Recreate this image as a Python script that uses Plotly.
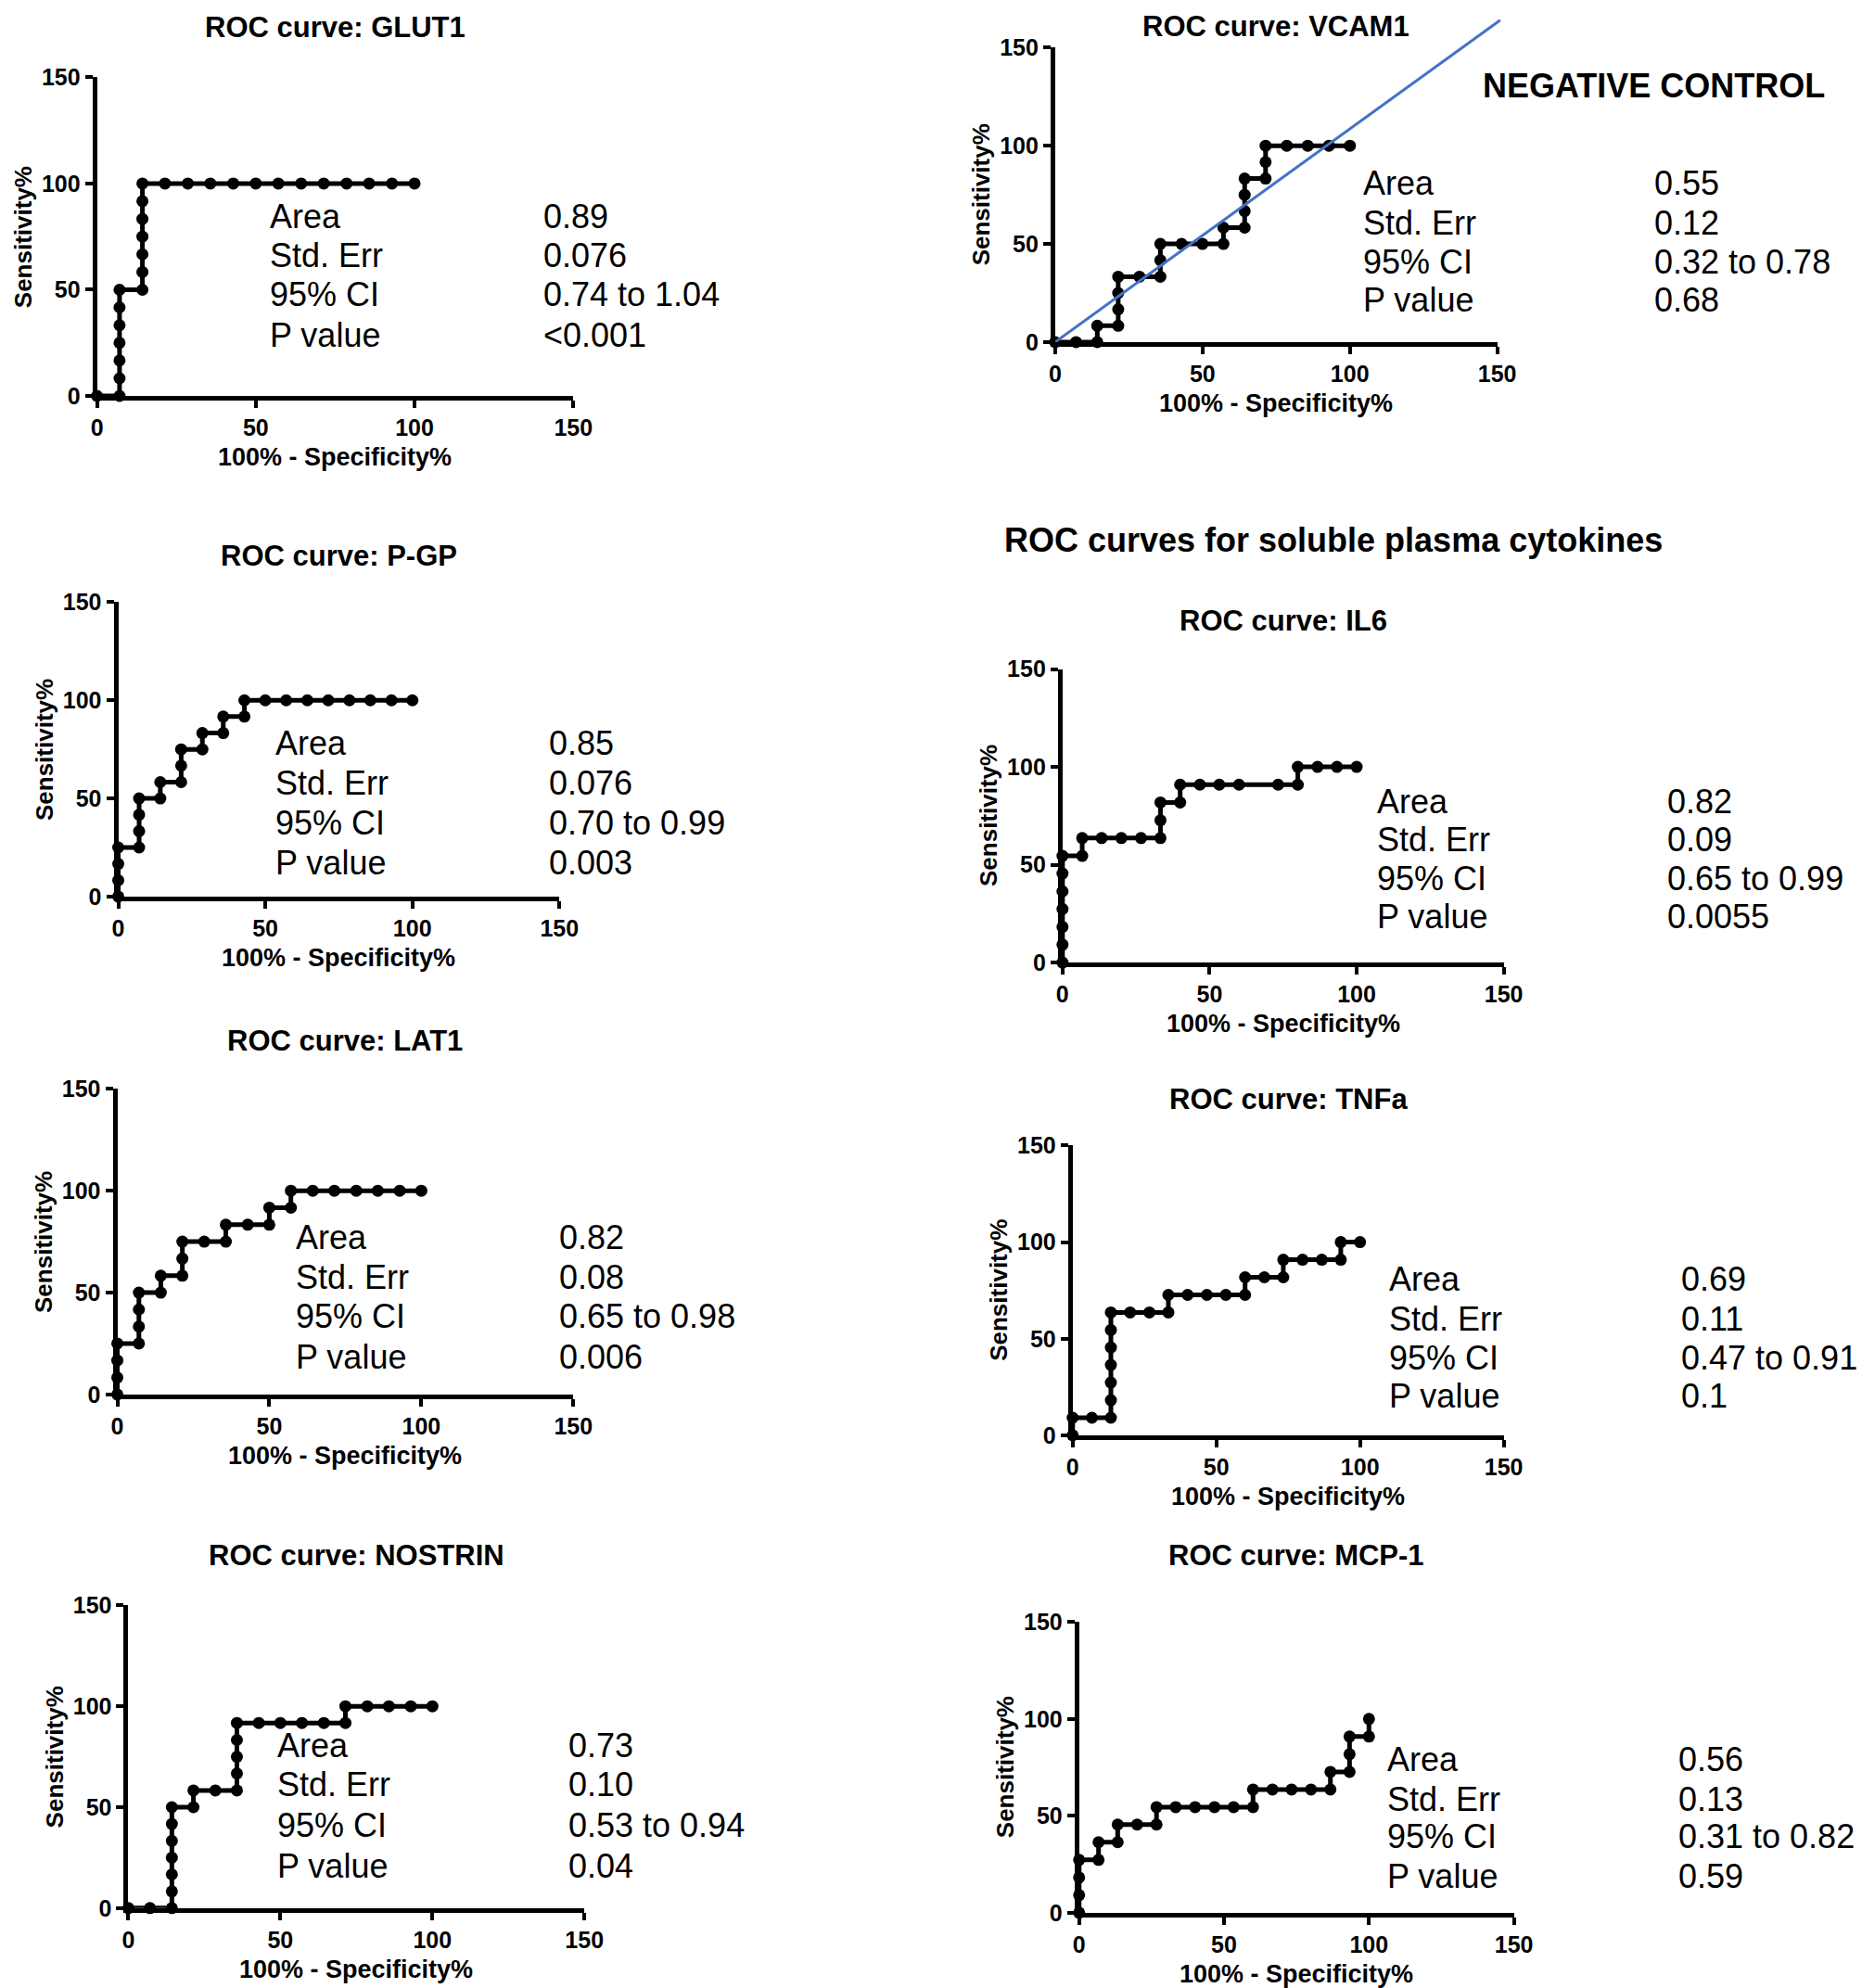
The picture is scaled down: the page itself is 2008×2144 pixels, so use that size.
import plotly.graph_objects as go

W, H = 2008, 2144
FONT = "Arial, 'Liberation Sans', Helvetica, sans-serif"

# ROC curve points: x = 100% - Specificity%, y = Sensitivity%
glut1_x = [0, 7.1, 7.1, 7.1, 7.1, 7.1, 7.1, 7.1, 14.3, 14.3, 14.3, 14.3, 14.3, 14.3, 14.3,
           21.4, 28.6, 35.7, 42.9, 50, 57.1, 64.3, 71.4, 78.6, 85.7, 92.9, 100]
glut1_y = [0, 0, 8.3, 16.7, 25, 33.3, 41.7, 50, 50, 58.3, 66.7, 75, 83.3, 91.7, 100,
           100, 100, 100, 100, 100, 100, 100, 100, 100, 100, 100, 100]

vcam1_x = [0, 7.1, 14.3, 14.3, 21.4, 21.4, 21.4, 21.4, 28.6, 35.7, 35.7, 35.7, 42.9, 50,
           57.1, 57.1, 64.3, 64.3, 64.3, 64.3, 71.4, 71.4, 71.4, 78.6, 85.7, 92.9, 100]
vcam1_y = [0, 0, 0, 8.3, 8.3, 16.7, 25, 33.3, 33.3, 33.3, 41.7, 50, 50, 50,
           50, 58.3, 58.3, 66.7, 75, 83.3, 83.3, 91.7, 100, 100, 100, 100, 100]
vcam1_ref_x = [0, 151]
vcam1_ref_y = [0, 164]

pgp_x = [0, 0, 0, 0, 7.1, 7.1, 7.1, 7.1, 14.3, 14.3, 21.4, 21.4, 21.4, 28.6, 28.6,
         35.7, 35.7, 42.9, 42.9, 50, 57.1, 64.3, 71.4, 78.6, 85.7, 92.9, 100]
pgp_y = [0, 8.3, 16.7, 25, 25, 33.3, 41.7, 50, 50, 58.3, 58.3, 66.7, 75, 75, 83.3,
         83.3, 91.7, 91.7, 100, 100, 100, 100, 100, 100, 100, 100, 100]

il6_x = [0, 0, 0, 0, 0, 0, 0, 6.7, 6.7, 13.3, 20, 26.7, 33.3, 33.3, 33.3, 40, 40,
         46.7, 53.3, 60, 73.3, 80, 80, 86.7, 93.3, 100]
il6_y = [0, 9.1, 18.2, 27.3, 36.4, 45.5, 54.5, 54.5, 63.6, 63.6, 63.6, 63.6, 63.6, 72.7, 81.8,
         81.8, 90.9, 90.9, 90.9, 90.9, 90.9, 90.9, 100, 100, 100, 100]

lat1_x = [0, 0, 0, 0, 7.1, 7.1, 7.1, 7.1, 14.3, 14.3, 21.4, 21.4, 21.4, 28.6, 35.7, 35.7,
          42.9, 50, 50, 57.1, 57.1, 64.3, 71.4, 78.6, 85.7, 92.9, 100]
lat1_y = [0, 8.3, 16.7, 25, 25, 33.3, 41.7, 50, 50, 58.3, 58.3, 66.7, 75, 75, 75, 83.3,
          83.3, 83.3, 91.7, 91.7, 100, 100, 100, 100, 100, 100, 100]

tnfa_x = [0, 0, 6.7, 13.3, 13.3, 13.3, 13.3, 13.3, 13.3, 13.3, 20, 26.7, 33.3, 33.3,
          40, 46.7, 53.3, 60, 60, 66.7, 73.3, 73.3, 80, 86.7, 93.3, 93.3, 100]
tnfa_y = [0, 9.1, 9.1, 9.1, 18.2, 27.3, 36.4, 45.5, 54.5, 63.6, 63.6, 63.6, 63.6, 72.7,
          72.7, 72.7, 72.7, 72.7, 81.8, 81.8, 81.8, 90.9, 90.9, 90.9, 90.9, 100, 100]

nostrin_x = [0, 7.1, 14.3, 14.3, 14.3, 14.3, 14.3, 14.3, 14.3, 21.4, 21.4, 28.6,
             35.7, 35.7, 35.7, 35.7, 35.7, 42.9, 50, 57.1, 64.3, 71.4, 71.4, 78.6, 85.7, 92.9, 100]
nostrin_y = [0, 0, 0, 8.3, 16.7, 25, 33.3, 41.7, 50, 50, 58.3, 58.3,
             58.3, 66.7, 75, 83.3, 91.7, 91.7, 91.7, 91.7, 91.7, 91.7, 100, 100, 100, 100, 100]

mcp1_x = [0, 0, 0, 0, 6.7, 6.7, 13.3, 13.3, 20, 26.7, 26.7, 33.3, 40, 46.7, 53.3, 60, 60,
          66.7, 73.3, 80, 86.7, 86.7, 93.3, 93.3, 93.3, 100, 100]
mcp1_y = [0, 9.1, 18.2, 27.3, 27.3, 36.4, 36.4, 45.5, 45.5, 45.5, 54.5, 54.5, 54.5, 54.5, 54.5, 54.5, 63.6,
          63.6, 63.6, 63.6, 63.6, 72.7, 72.7, 81.8, 90.9, 90.9, 100]

# summary statistics printed next to each curve
stat_names = ["Area", "Std. Err", "95% CI", "P value"]
glut1_stats = ["0.89", "0.076", "0.74 to 1.04", "&lt;0.001"]
vcam1_stats = ["0.55", "0.12", "0.32 to 0.78", "0.68"]
pgp_stats = ["0.85", "0.076", "0.70 to 0.99", "0.003"]
il6_stats = ["0.82", "0.09", "0.65 to 0.99", "0.0055"]
lat1_stats = ["0.82", "0.08", "0.65 to 0.98", "0.006"]
tnfa_stats = ["0.69", "0.11", "0.47 to 0.91", "0.1"]
nostrin_stats = ["0.73", "0.10", "0.53 to 0.94", "0.04"]
mcp1_stats = ["0.56", "0.13", "0.31 to 0.82", "0.59"]

axis_ticks = [0, 50, 100, 150]

# panel geometry in page pixels: (x of 0, x of 150, y of 0, y of 150)
panels = [
    dict(name="GLUT1", x=glut1_x, y=glut1_y, stats=glut1_stats, box=(99, 615, 425, 82),
         ty=28, sx=(284, 581), rows=[232, 274, 316, 360]),
    dict(name="VCAM1", x=vcam1_x, y=vcam1_y, stats=vcam1_stats, box=(1137, 1616, 367, 50),
         ty=27, sx=(1469, 1784), rows=[196, 239, 281, 322]),
    dict(name="P-GP", x=pgp_x, y=pgp_y, stats=pgp_stats, box=(122, 600, 964, 647),
         ty=597, sx=(290, 587), rows=[799, 842, 885, 928]),
    dict(name="IL6", x=il6_x, y=il6_y, stats=il6_stats, box=(1145, 1623, 1035, 719),
         ty=667, sx=(1484, 1798), rows=[862, 903, 945, 986]),
    dict(name="LAT1", x=lat1_x, y=lat1_y, stats=lat1_stats, box=(121, 615, 1500, 1171),
         ty=1119, sx=(312, 598), rows=[1331, 1374, 1416, 1460]),
    dict(name="TNFa", x=tnfa_x, y=tnfa_y, stats=tnfa_stats, box=(1156, 1623, 1544, 1232),
         ty=1182, sx=(1497, 1813), rows=[1376, 1419, 1461, 1502]),
    dict(name="NOSTRIN", x=nostrin_x, y=nostrin_y, stats=nostrin_stats, box=(133, 627, 2053, 1727),
         ty=1673, sx=(292, 608), rows=[1878, 1920, 1964, 2008]),
    dict(name="MCP-1", x=mcp1_x, y=mcp1_y, stats=mcp1_stats, box=(1163, 1634, 2058, 1745),
         ty=1673, sx=(1495, 1810), rows=[1893, 1936, 1976, 2019]),
]


# pixel -> paper, with a small stretch to line up with the reference page
def px(v):
    return min(max((100 + (v - 100) * 1.0095) / W, 0), 1)


def py(v):
    return min(max(1 - (860 + (v - 860) * 1.015) / H, 0), 1)


fig = go.Figure()
annotations = []
layout_axes = {}

for i, p in enumerate(panels, start=1):
    x0, x1, y0, y1 = p["box"]
    fig.add_trace(go.Scatter(
        x=p["x"], y=p["y"], mode="lines+markers",
        line=dict(color="black", width=5),
        marker=dict(color="black", size=13),
        cliponaxis=False, showlegend=False,
        xaxis=f"x{i}", yaxis=f"y{i}",
    ))
    common = dict(range=[0, 150], tickvals=axis_ticks, showgrid=False, zeroline=False,
                  showline=True, linecolor="black", linewidth=5,
                  ticks="outside", ticklen=8, tickwidth=4, tickcolor="black",
                  tickfont=dict(family=FONT, size=25, color="black", weight="bold"),
                  fixedrange=True)
    layout_axes[f"xaxis{i}"] = dict(common, domain=[px(x0), px(x1)], anchor=f"y{i}")
    layout_axes[f"yaxis{i}"] = dict(common, domain=[py(y0), py(y1)], anchor=f"x{i}")

    cx = (x0 + x1) / 2
    # panel title
    annotations.append(dict(text=f"ROC curve: {p['name']}", x=px(cx), y=py(p["ty"]),
                            xref="paper", yref="paper", xanchor="center", yanchor="middle",
                            showarrow=False,
                            font=dict(family=FONT, size=31, color="black", weight="bold")))
    # axis titles
    annotations.append(dict(text="100% - Specificity%", x=px(cx), y=py(y0 + 66),
                            xref="paper", yref="paper", xanchor="center", yanchor="middle",
                            showarrow=False,
                            font=dict(family=FONT, size=27, color="black", weight="bold")))
    annotations.append(dict(text="Sensitivity%", x=px(x0 - 80), y=py((y0 + y1) / 2),
                            xref="paper", yref="paper", xanchor="center", yanchor="middle",
                            textangle=-90, showarrow=False,
                            font=dict(family=FONT, size=26, color="black", weight="bold")))
    # statistics block
    for label, value, ry in zip(stat_names, p["stats"], p["rows"]):
        annotations.append(dict(text=label, x=px(p["sx"][0]), y=py(ry),
                                xref="paper", yref="paper", xanchor="left", yanchor="middle",
                                showarrow=False, font=dict(family=FONT, size=36, color="black")))
        annotations.append(dict(text=value, x=px(p["sx"][1]), y=py(ry),
                                xref="paper", yref="paper", xanchor="left", yanchor="middle",
                                showarrow=False, font=dict(family=FONT, size=36, color="black")))

# diagonal reference line on VCAM1, drawn on a hidden axis pair with the same scale
# but a slightly larger extent so that it can run past the top of the axis
vx0, vx1, vy0, vy1 = panels[1]["box"]
sx_scale = (vx1 - vx0) / 150
sy_scale = (vy0 - vy1) / 150
fig.add_trace(go.Scatter(
    x=vcam1_ref_x, y=vcam1_ref_y, mode="lines",
    line=dict(color="#4472C4", width=3), showlegend=False,
    xaxis="x9", yaxis="y9",
))
layout_axes["xaxis9"] = dict(domain=[px(vx0), px(vx0 + sx_scale * 156)], range=[0, 156],
                             anchor="y9", visible=False, fixedrange=True)
layout_axes["yaxis9"] = dict(domain=[py(vy0), py(vy0 - sy_scale * 165)], range=[0, 165],
                             anchor="x9", visible=False, fixedrange=True)

annotations.append(dict(text="NEGATIVE CONTROL", x=px(1786), y=py(91), xref="paper", yref="paper",
                        xanchor="center", yanchor="middle", showarrow=False,
                        font=dict(family=FONT, size=36, color="black", weight="bold")))
annotations.append(dict(text="ROC curves for soluble plasma cytokines", x=px(1439), y=py(580),
                        xref="paper", yref="paper", xanchor="center", yanchor="middle",
                        showarrow=False,
                        font=dict(family=FONT, size=36, color="black", weight="bold")))

fig.update_layout(
    width=W, height=H,
    margin=dict(l=0, r=0, t=0, b=0),
    paper_bgcolor="white", plot_bgcolor="rgba(0,0,0,0)",
    annotations=annotations,
    **layout_axes,
)

fig.write_html("out.html", config={"displayModeBar": False},
               post_script="document.body.style.margin='0';")
